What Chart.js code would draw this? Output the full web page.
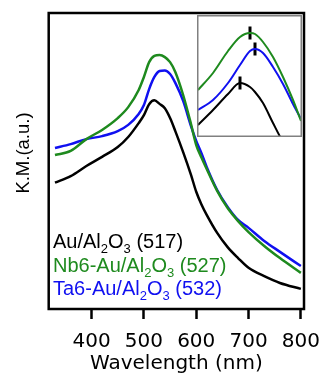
<!DOCTYPE html>
<html>
<head>
<meta charset="utf-8">
<script src="https://cdn.jsdelivr.net/npm/chart.js@4.4.0/dist/chart.umd.min.js"></script>
<style>
  html, body { margin: 0; padding: 0; background: #fff; }
  #wrap { position: relative; width: 320px; height: 378px; }
  #main-chart { position: absolute; left: 0; top: 0; }
  #inset-chart { position: absolute; left: 197px; top: 15px; }
</style>
</head>
<body>
<div id="wrap">
  <canvas id="main-chart" width="320" height="378"></canvas>
  <canvas id="inset-chart" width="105" height="122"></canvas>
</div>
<script>
/* data */
const WAVELENGTHS = [330, 360, 390, 420, 450, 470, 490, 500, 510, 520, 530, 540, 550, 560, 575, 590, 600, 610, 620, 640, 660, 680, 700, 730, 760, 800];
const AU_VALUES = [42.7, 44.9, 48.3, 51.4, 54.7, 58.1, 62.8, 65.5, 69.2, 70.5, 69.3, 67.8, 64.5, 60.1, 53.0, 45.3, 39.6, 35.3, 31.8, 25.7, 20.9, 17.2, 13.9, 11.1, 8.8, 6.8];
const NB_VALUES = [52.0, 53.4, 57.4, 60.5, 64.5, 68.2, 74.0, 78.4, 83.4, 85.5, 85.8, 85.1, 83.4, 80.1, 72.3, 62.5, 55.4, 51.2, 47.3, 39.9, 34.1, 29.7, 26.0, 21.3, 17.2, 12.2];
const TA_VALUES = [54.4, 55.7, 57.4, 58.4, 60.1, 62.2, 65.9, 68.9, 74.3, 78.4, 80.4, 80.6, 79.4, 76.4, 70.3, 61.8, 56.8, 52.6, 48.0, 40.2, 34.5, 30.1, 27.4, 23.0, 19.3, 14.5];

const INSET_WAVELENGTHS = [475, 490, 505, 517, 527, 532, 540, 550, 560, 570, 578];
const INSET_AU_VALUES = [12, 27, 43, 54, 50, 45, 34, 14, -5, -20, -30];
const INSET_NB_VALUES = [47, 64, 86, 100, 104, 103, 95, 80, 60, 37, 16];
const INSET_TA_VALUES = [27, 37, 54, 72, 86, 88, 84, 70, 53, 33, 18];

const X_TICKS = [400, 500, 600, 700, 800];
const X_TITLE = 'Wavelength (nm)';
const Y_TITLE = 'K.M.(a.u.)';
const SERIES_LABELS = ['Au/Al_2O_3 (517)', 'Nb6-Au/Al_2O_3 (527)', 'Ta6-Au/Al_2O_3 (532)'];
const PEAK_POSITIONS = [517, 527, 532];
const SERIES_COLORS = ['#000000', '#1e8a1e', '#1010f0'];

/* utilities */
const FONT_FAMILY = "'Liberation Sans', Arial, sans-serif";
const AXIS_FONT_FAMILY = "'DejaVu Sans', sans-serif";
Chart.defaults.font.family = FONT_FAMILY;
Chart.defaults.color = '#000';

const toPoints = (xs, ys) => xs.map((x, i) => ({ x: x, y: ys[i] }));

const drawSubscriptText = (ctx, text, x, y, size) => {
  const parts = text.split(/_(\d)/);
  let cursor = x;
  parts.forEach((part, i) => {
    const isSub = i % 2 === 1;
    ctx.font = (isSub ? Math.round(size * 0.65) : size) + 'px ' + FONT_FAMILY;
    ctx.fillText(part, cursor, isSub ? y + 5 : y);
    cursor += ctx.measureText(part).width;
  });
};

const framePlugin = {
  id: 'frame',
  afterDatasetsDraw: (chart) => {
    const { ctx, chartArea } = chart;
    ctx.save();
    ctx.strokeStyle = '#000';
    ctx.lineWidth = 2.5;
    ctx.strokeRect(chartArea.left, chartArea.top, chartArea.right - chartArea.left, chartArea.bottom - chartArea.top);
    ctx.restore();
  },
};

const labelPlugin = {
  id: 'labels',
  afterDatasetsDraw: (chart) => {
    const ctx = chart.ctx;
    ctx.save();
    ctx.textBaseline = 'alphabetic';
    ctx.textAlign = 'left';
    SERIES_LABELS.forEach((label, i) => {
      ctx.fillStyle = SERIES_COLORS[i];
      drawSubscriptText(ctx, label, 53, 248 + i * 23.5, 20);
    });

    // y title, rotated
    ctx.translate(24, 153);
    ctx.rotate(-Math.PI / 2);
    ctx.fillStyle = '#000';
    ctx.font = '18.5px ' + FONT_FAMILY;
    ctx.textAlign = 'center';
    ctx.textBaseline = 'middle';
    ctx.fillText(Y_TITLE, 0, 0);
    ctx.restore();
  },
};

const insetFramePlugin = {
  id: 'insetFrame',
  beforeDraw: (chart) => {
    const ctx = chart.ctx;
    ctx.save();
    ctx.fillStyle = '#fff';
    ctx.fillRect(0, 0, chart.width, chart.height);
    ctx.restore();
  },
  afterDraw: (chart) => {
    const ctx = chart.ctx;
    ctx.save();
    ctx.strokeStyle = '#808080';
    ctx.lineWidth = 1.5;
    ctx.strokeRect(0.75, 0.75, chart.width - 1.5, chart.height - 1.5);
    ctx.restore();
  },
};

/* charts */
const createMainChart = () => {
  const series = [AU_VALUES, NB_VALUES, TA_VALUES];

  return new Chart(document.querySelector('#main-chart'), {
    type: 'line',
    data: {
      datasets: series.map((values, i) => ({
        label: SERIES_LABELS[i],
        data: toPoints(WAVELENGTHS, values),
        borderColor: SERIES_COLORS[i],
      })),
    },
    options: {
      responsive: false,
      animation: false,
      layout: { autoPadding: false, padding: { top: 13, right: 16, left: 0, bottom: 0 } },
      plugins: { legend: { display: false }, tooltip: { enabled: false } },
      elements: {
        point: { radius: 0 },
        line: { borderWidth: 2.5, cubicInterpolationMode: 'monotone' },
      },
      scales: {
        x: {
          type: 'linear',
          min: 318,
          max: 806,
          afterBuildTicks: (scale) => {
            scale.ticks = X_TICKS.map((value) => ({ value: value }));
          },
          afterFit: (scale) => {
            scale.height = 69;
            scale.paddingLeft = 0;
            scale.paddingRight = 0;
          },
          grid: { display: true, drawOnChartArea: false, drawTicks: true, tickLength: 10, tickWidth: 2.5, tickColor: '#000' },
          border: { display: false },
          ticks: { color: '#000', font: { family: AXIS_FONT_FAMILY, size: 20 }, padding: 11, maxRotation: 0, autoSkip: false },
          title: { display: true, text: X_TITLE, color: '#000', font: { family: AXIS_FONT_FAMILY, size: 20 }, padding: { top: 0, bottom: 2.5 } },
        },
        y: {
          min: 0,
          max: 100,
          ticks: { display: false },
          grid: { display: false },
          border: { display: false },
          afterFit: (scale) => {
            scale.width = 48.7;
          },
        },
      },
    },
    plugins: [framePlugin, labelPlugin],
  });
};

const createInsetChart = () => {
  const series = [INSET_AU_VALUES, INSET_NB_VALUES, INSET_TA_VALUES];
  const lines = series.map((values, i) => ({
    data: toPoints(INSET_WAVELENGTHS, values),
    borderColor: SERIES_COLORS[i],
    borderWidth: 2,
  }));
  const markers = series.map((values, i) => ({
    type: 'scatter',
    data: [{ x: PEAK_POSITIONS[i], y: values[INSET_WAVELENGTHS.indexOf(PEAK_POSITIONS[i])] }],
    pointStyle: 'line',
    rotation: 90,
    radius: 6.5,
    borderWidth: 3,
    borderColor: '#000',
    backgroundColor: '#000',
  }));

  return new Chart(document.querySelector('#inset-chart'), {
    type: 'line',
    data: { datasets: lines.concat(markers) },
    options: {
      responsive: false,
      animation: false,
      layout: { autoPadding: false, padding: 0 },
      plugins: { legend: { display: false }, tooltip: { enabled: false } },
      elements: {
        point: { radius: 0 },
        line: { cubicInterpolationMode: 'monotone' },
      },
      scales: {
        x: { type: 'linear', display: false, min: 474, max: 579 },
        y: { display: false, min: 0, max: 122 },
      },
    },
    plugins: [insetFramePlugin],
  });
};

document.addEventListener('DOMContentLoaded', () => {
  createMainChart();
  createInsetChart();
});
</script>
</body>
</html>
